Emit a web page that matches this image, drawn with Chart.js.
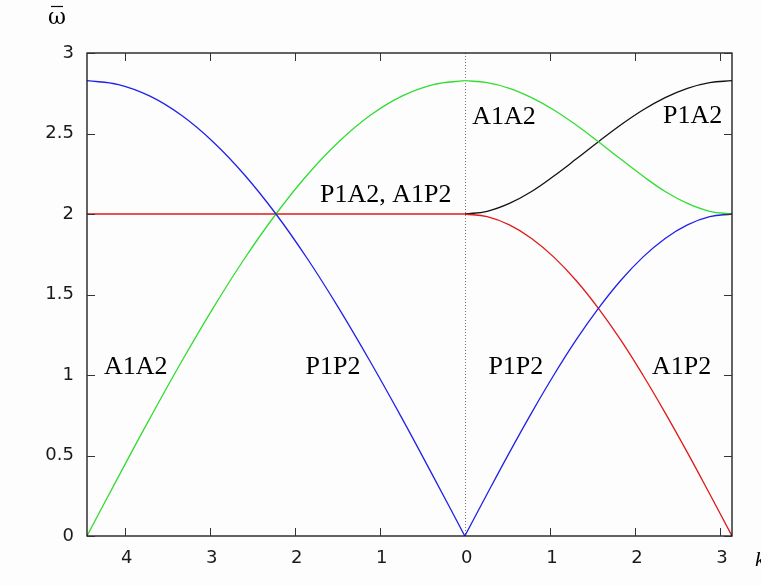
<!DOCTYPE html>
<html>
<head>
<meta charset="utf-8">
<script src="https://cdn.jsdelivr.net/npm/chart.js@4.4.1/dist/chart.umd.min.js"></script>
<style>
  html, body { margin: 0; padding: 0; background: #fdfdfd; }
  #plot { display: block; }
</style>
</head>
<body>
<canvas id="plot" width="761" height="586"></canvas>
<script>
// wave vector along the left branch (runs from -pi*sqrt2 up to 0) and the right branch (0 to pi)
const leftK = [-4.443, -4.073, -3.702, -3.332, -2.962, -2.592, -2.221, -1.851, -1.481, -1.111, -0.740, -0.370, 0];
const rightK = [0, 0.262, 0.524, 0.785, 1.047, 1.309, 1.571, 1.833, 2.094, 2.356, 2.618, 2.880, 3.142];

// left branch frequencies
const leftA1A2 = [0, 0.369, 0.732, 1.082, 1.414, 1.722, 2.000, 2.244, 2.449, 2.613, 2.732, 2.804, 2.828];
const leftP1P2 = [2.828, 2.804, 2.732, 2.613, 2.449, 2.244, 2.000, 1.722, 1.414, 1.082, 0.732, 0.369, 0];
const leftMixed = [2, 2, 2, 2, 2, 2, 2, 2, 2, 2, 2, 2, 2];

// right branch frequencies
const rightA1A2 = [2.828, 2.816, 2.781, 2.723, 2.646, 2.553, 2.449, 2.341, 2.236, 2.140, 2.066, 2.017, 2.000];
const rightP1A2 = [2.000, 2.017, 2.066, 2.140, 2.236, 2.341, 2.449, 2.553, 2.646, 2.723, 2.781, 2.816, 2.828];
const rightP1P2 = [0, 0.261, 0.518, 0.765, 1.000, 1.218, 1.414, 1.587, 1.732, 1.848, 1.932, 1.983, 2.000];
const rightA1P2 = [2.000, 1.983, 1.932, 1.848, 1.732, 1.587, 1.414, 1.218, 1.000, 0.765, 0.518, 0.261, 0];

const xTicks = [-4, -3, -2, -1, 0, 1, 2, 3];
const yTicks = [0, 0.5, 1, 1.5, 2, 2.5, 3];

// branch names written inside the plot
const branchLabels = [
  { text: 'A1A2', k: -3.87, w: 1.05 },
  { text: 'P1P2', k: -1.55, w: 1.05 },
  { text: 'P1P2', k: 0.60, w: 1.05 },
  { text: 'A1P2', k: 2.55, w: 1.05 },
  { text: 'A1A2', k: 0.46, w: 2.60 },
  { text: 'P1A2', k: 2.68, w: 2.61 },
  { text: 'P1A2, A1P2', k: -0.93, w: 2.12 }
];

const BLUE = '#2020e8';
const GREEN = '#30dd30';
const RED = '#e01818';
const BLACK = '#111111';

function pts(xs, ys) {
  return xs.map((x, i) => ({ x: x, y: ys[i] }));
}

function curve(data, color) {
  return {
    data: data,
    borderColor: color,
    borderWidth: 1.3,
    pointRadius: 0,
    fill: false,
    tension: 0.4
  };
}

// frame, inward ticks, tick labels, the dotted k=0 line and text
const framePlugin = {
  id: 'frame',
  beforeDatasetsDraw(chart) {
    const ctx = chart.ctx;
    const xs = chart.scales.x, ys = chart.scales.y;
    const x0 = xs.getPixelForValue(0);
    ctx.save();
    ctx.strokeStyle = '#777';
    ctx.lineWidth = 1;
    ctx.setLineDash([1, 2]);
    ctx.beginPath();
    ctx.moveTo(Math.round(x0) + 0.5, ys.getPixelForValue(3));
    ctx.lineTo(Math.round(x0) + 0.5, ys.getPixelForValue(0));
    ctx.stroke();
    ctx.restore();
  },
  afterDatasetsDraw(chart) {
    const ctx = chart.ctx;
    const a = chart.chartArea;
    const xs = chart.scales.x, ys = chart.scales.y;
    ctx.save();
    ctx.strokeStyle = '#111';
    ctx.lineWidth = 1.3;
    ctx.strokeRect(a.left, a.top, a.right - a.left, a.bottom - a.top);

    ctx.strokeStyle = '#333';
    ctx.lineWidth = 1;
    ctx.beginPath();
    xTicks.forEach(v => {
      if (v === 0) return;
      const px = Math.round(xs.getPixelForValue(v)) + 0.5;
      ctx.moveTo(px, a.bottom); ctx.lineTo(px, a.bottom - 8);
      ctx.moveTo(px, a.top); ctx.lineTo(px, a.top + 8);
    });
    yTicks.forEach(v => {
      const py = Math.round(ys.getPixelForValue(v)) + 0.5;
      ctx.moveTo(a.left, py); ctx.lineTo(a.left + 8, py);
      ctx.moveTo(a.right, py); ctx.lineTo(a.right - 8, py);
    });
    ctx.stroke();

    ctx.fillStyle = '#1a1a1a';
    ctx.font = '18px "DejaVu Sans"';
    ctx.textAlign = 'right';
    ctx.textBaseline = 'middle';
    yTicks.forEach(v => {
      ctx.fillText(String(v), a.left - 13, ys.getPixelForValue(v));
    });
    ctx.textAlign = 'center';
    xTicks.forEach(v => {
      ctx.fillText(String(Math.abs(v)), xs.getPixelForValue(v) + 2, a.bottom + 22);
    });

    ctx.fillStyle = '#000';
    ctx.font = '26px "Liberation Serif"';
    ctx.textAlign = 'center';
    ctx.textBaseline = 'middle';
    branchLabels.forEach(l => {
      ctx.fillText(l.text, xs.getPixelForValue(l.k), ys.getPixelForValue(l.w));
    });

    // axis titles: omega with a bar over it, and k cut off at the right edge
    ctx.font = '22px "DejaVu Serif"';
    ctx.fillText('\u03C9', 57, 18);
    ctx.strokeStyle = '#000';
    ctx.lineWidth = 1.2;
    ctx.beginPath();
    ctx.moveTo(51, 6.5); ctx.lineTo(63, 6.5);
    ctx.stroke();
    ctx.font = 'italic 22px "Liberation Serif"';
    ctx.textAlign = 'left';
    ctx.fillText('k', 755, 560);
    ctx.restore();
  }
};

new Chart(document.getElementById('plot'), {
  type: 'line',
  data: {
    datasets: [
      curve(pts(leftK, leftP1P2), BLUE),
      curve(pts(leftK, leftA1A2), GREEN),
      curve(pts(leftK, leftMixed), RED),
      curve(pts(rightK, rightP1P2), BLUE),
      curve(pts(rightK, rightA1P2), RED),
      curve(pts(rightK, rightA1A2), GREEN),
      curve(pts(rightK, rightP1A2), BLACK)
    ]
  },
  options: {
    responsive: false,
    animation: false,
    layout: { padding: { left: 87, right: 29, top: 53, bottom: 50 } },
    plugins: { legend: { display: false }, tooltip: { enabled: false } },
    scales: {
      x: { type: 'linear', min: -4.443, max: 3.142, display: false },
      y: { type: 'linear', min: 0, max: 3, display: false }
    }
  },
  plugins: [framePlugin]
});
</script>
</body>
</html>
